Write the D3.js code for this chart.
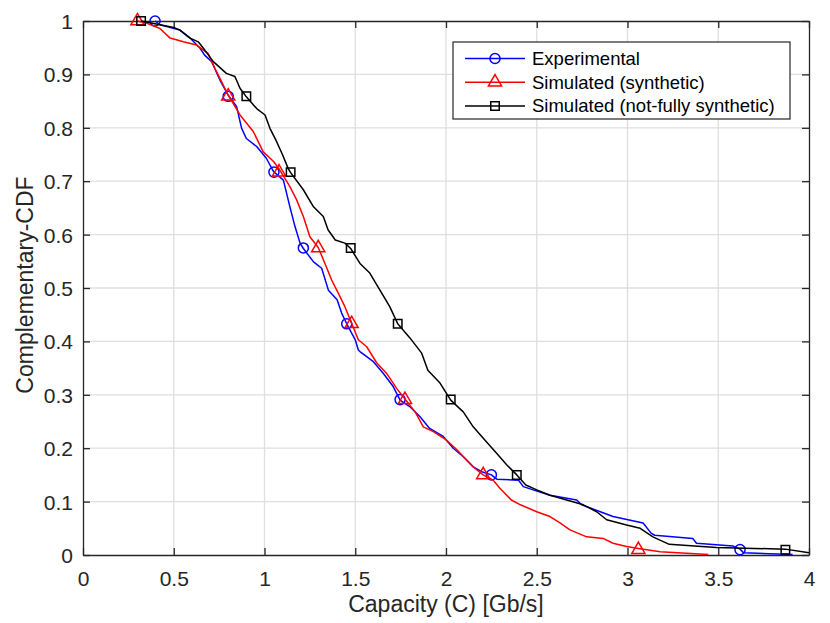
<!DOCTYPE html>
<html>
<head>
<meta charset="utf-8">
<script src="https://cdn.jsdelivr.net/npm/d3@7"></script>
<style>
  body { margin: 0; background: #fff; }
  text { font-family: "Liberation Sans", Arial, Helvetica, sans-serif; }
</style>
</head>
<body>
<script>
// CCDF curves: [capacity (Gb/s), complementary CDF]
var experimental = [
    [0.397, 1.0], [0.424, 0.993], [0.534, 0.983], [0.59, 0.968], [0.645, 0.949], [0.67, 0.936],
    [0.709, 0.924], [0.755, 0.889], [0.80, 0.861], [0.846, 0.84], [0.874, 0.799], [0.90, 0.78],
    [0.957, 0.765], [1.01, 0.743], [1.05, 0.718], [1.104, 0.702], [1.14, 0.652], [1.168, 0.615],
    [1.196, 0.584], [1.214, 0.574], [1.27, 0.549], [1.315, 0.537], [1.352, 0.496], [1.40, 0.478],
    [1.425, 0.453], [1.453, 0.433], [1.50, 0.403], [1.517, 0.384], [1.526, 0.381], [1.60, 0.362],
    [1.655, 0.34], [1.71, 0.315], [1.747, 0.29], [1.80, 0.278], [1.857, 0.259], [1.91, 0.237],
    [1.985, 0.222], [2.04, 0.20], [2.095, 0.184], [2.15, 0.165], [2.197, 0.156], [2.25, 0.15],
    [2.28, 0.142], [2.40, 0.14], [2.426, 0.128], [2.48, 0.122], [2.573, 0.112], [2.72, 0.103],
    [2.747, 0.094], [2.85, 0.081], [2.92, 0.072], [3.086, 0.06], [3.13, 0.041], [3.15, 0.037],
    [3.36, 0.031], [3.38, 0.022], [3.58, 0.017], [3.62, 0.011], [3.64, 0.004], [3.91, 0.001]
];
var synthetic = [
    [0.30, 1.0], [0.35, 0.996], [0.424, 0.986], [0.48, 0.968], [0.553, 0.961], [0.626, 0.955],
    [0.69, 0.939], [0.727, 0.911], [0.764, 0.886], [0.80, 0.861], [0.865, 0.824], [0.938, 0.793],
    [0.993, 0.755], [1.05, 0.737], [1.08, 0.723], [1.14, 0.69], [1.177, 0.665], [1.214, 0.634],
    [1.25, 0.596], [1.296, 0.576], [1.333, 0.546], [1.37, 0.515], [1.407, 0.49], [1.443, 0.465],
    [1.48, 0.434], [1.517, 0.403], [1.563, 0.39], [1.618, 0.36], [1.673, 0.34], [1.728, 0.312],
    [1.774, 0.292], [1.83, 0.268], [1.875, 0.24], [1.93, 0.231], [2.004, 0.215], [2.06, 0.197],
    [2.114, 0.178], [2.16, 0.162], [2.205, 0.15], [2.26, 0.14], [2.297, 0.125], [2.36, 0.103],
    [2.41, 0.094], [2.50, 0.081], [2.573, 0.072], [2.628, 0.06], [2.683, 0.047], [2.775, 0.034],
    [2.866, 0.031], [2.92, 0.022], [2.995, 0.016], [3.06, 0.012], [3.18, 0.006], [3.445, 0.001]
];
var notFully = [
    [0.32, 1.0], [0.50, 0.988], [0.534, 0.983], [0.59, 0.968], [0.635, 0.961], [0.67, 0.946],
    [0.718, 0.924], [0.79, 0.902], [0.837, 0.896], [0.865, 0.874], [0.90, 0.858], [0.957, 0.836],
    [1.003, 0.824], [1.03, 0.799], [1.067, 0.774], [1.10, 0.749], [1.13, 0.724], [1.144, 0.716],
    [1.214, 0.684], [1.27, 0.652], [1.324, 0.634], [1.35, 0.609], [1.39, 0.59], [1.443, 0.584],
    [1.475, 0.574], [1.526, 0.546], [1.58, 0.528], [1.636, 0.496], [1.69, 0.465], [1.734, 0.433],
    [1.80, 0.407], [1.866, 0.378], [1.90, 0.346], [1.967, 0.322], [2.026, 0.29], [2.095, 0.268],
    [2.15, 0.24], [2.215, 0.215], [2.28, 0.19], [2.334, 0.169], [2.39, 0.15], [2.44, 0.131],
    [2.50, 0.122], [2.573, 0.112], [2.665, 0.103], [2.757, 0.094], [2.83, 0.081], [2.885, 0.066],
    [2.995, 0.056], [3.07, 0.05], [3.14, 0.034], [3.23, 0.02], [3.49, 0.014], [3.87, 0.011],
    [4.0, 0.004]
];

// markers sit on every 15th sample, same CCDF levels for all three
var markerLevels = [1.0, 0.859, 0.717, 0.575, 0.433, 0.291, 0.15, 0.01];
var experimentalMarkX = [0.397, 0.80, 1.052, 1.214, 1.453, 1.747, 2.25, 3.62];
var syntheticMarkX = [0.30, 0.80, 1.08, 1.296, 1.48, 1.774, 2.205, 3.06];
var notFullyMarkX = [0.32, 0.90, 1.144, 1.475, 1.734, 2.026, 2.39, 3.87];

var seriesNames = ['Experimental', 'Simulated (synthetic)', 'Simulated (not-fully synthetic)'];
var xTicks = [0, 0.5, 1, 1.5, 2, 2.5, 3, 3.5, 4];
var yTicks = [0, 0.1, 0.2, 0.3, 0.4, 0.5, 0.6, 0.7, 0.8, 0.9, 1];

var margin = {top: 21, right: 21, bottom: 68, left: 83},
    width = 830 - margin.left - margin.right,
    height = 623 - margin.top - margin.bottom;

var axisColor = '#262626';
var gridColor = '#dfdfdf';

var series = [
    {name: seriesNames[0], data: experimental, markX: experimentalMarkX, color: '#0000ff', marker: 'circle'},
    {name: seriesNames[1], data: synthetic, markX: syntheticMarkX, color: '#ff0000', marker: 'triangle'},
    {name: seriesNames[2], data: notFully, markX: notFullyMarkX, color: '#000000', marker: 'square'}
];

var x = d3.scaleLinear().domain([0, 4]).range([0, width]);
var y = d3.scaleLinear().domain([0, 1]).range([height, 0]);

var svg = d3.select('body')
    .append('svg')
    .attr('width', 830)
    .attr('height', 623);

svg.append('rect')
    .attr('width', 830)
    .attr('height', 623)
    .attr('fill', '#fff');

var g = svg.append('g')
    .attr('transform', 'translate(' + margin.left + ',' + margin.top + ')');

// grid
g.append('g')
    .selectAll('line')
    .data(xTicks.slice(1, -1))
    .enter()
    .append('line')
    .attr('x1', function (d) { return x(d); })
    .attr('x2', function (d) { return x(d); })
    .attr('y1', 0)
    .attr('y2', height)
    .attr('stroke', gridColor)
    .attr('stroke-width', 1.3);

g.append('g')
    .selectAll('line')
    .data(yTicks.slice(1, -1))
    .enter()
    .append('line')
    .attr('y1', function (d) { return y(d); })
    .attr('y2', function (d) { return y(d); })
    .attr('x1', 0)
    .attr('x2', width)
    .attr('stroke', gridColor)
    .attr('stroke-width', 1.3);

// axes, ticks point inward like matlab
function styleAxis(sel) {
    sel.select('.domain').attr('stroke', axisColor).attr('stroke-width', 1.3);
    sel.selectAll('.tick line').attr('stroke', axisColor).attr('stroke-width', 1.3);
    sel.selectAll('.tick text')
        .attr('fill', axisColor)
        .style('font-size', '21px');
}

g.append('g')
    .attr('transform', 'translate(0,' + height + ')')
    .call(d3.axisBottom(x).tickValues(xTicks).tickFormat(d3.format('~g'))
        .tickSizeInner(-7).tickSizeOuter(0).tickPadding(16))
    .call(styleAxis);

g.append('g')
    .call(d3.axisLeft(y).tickValues(yTicks).tickFormat(d3.format('~g'))
        .tickSizeInner(-7).tickSizeOuter(0).tickPadding(10))
    .call(styleAxis)
    .selectAll('.tick text').attr('dy', '0.36em');

g.append('g')
    .call(d3.axisTop(x).tickValues(xTicks).tickFormat('')
        .tickSizeInner(-7).tickSizeOuter(0))
    .call(styleAxis);

g.append('g')
    .attr('transform', 'translate(' + width + ',0)')
    .call(d3.axisRight(y).tickValues(yTicks).tickFormat('')
        .tickSizeInner(-7).tickSizeOuter(0))
    .call(styleAxis);

// curves
var line = d3.line()
    .x(function (d) { return x(d[0]); })
    .y(function (d) { return y(d[1]); });

var symbolSize = {circle: 80, triangle: 75, square: 72};
var symbolType = {circle: d3.symbolCircle, triangle: d3.symbolTriangle, square: d3.symbolSquare};

function drawMarker(sel, s) {
    sel.attr('d', d3.symbol().type(symbolType[s.marker]).size(symbolSize[s.marker]))
        .attr('fill', 'none')
        .attr('stroke', s.color)
        .attr('stroke-width', 1.5);
}

series.forEach(function (s) {
    g.append('path')
        .datum(s.data)
        .attr('d', line)
        .attr('fill', 'none')
        .attr('stroke', s.color)
        .attr('stroke-width', 1.5)
        .attr('stroke-linejoin', 'round');

    g.append('g')
        .selectAll('path')
        .data(s.markX)
        .enter()
        .append('path')
        .attr('transform', function (d, i) {
            return 'translate(' + x(d) + ',' + y(markerLevels[i]) + ')';
        })
        .call(drawMarker, s);
});

// axis labels
svg.append('text')
    .attr('x', margin.left + width / 2)
    .attr('y', 612)
    .attr('text-anchor', 'middle')
    .attr('fill', axisColor)
    .style('font-size', '23px')
    .text('Capacity (C) [Gb/s]');

svg.append('text')
    .attr('transform', 'translate(33,' + (margin.top + height / 2 - 3) + ') rotate(-90)')
    .attr('text-anchor', 'middle')
    .attr('fill', axisColor)
    .style('font-size', '23px')
    .text('Complementary-CDF');

// legend
var legend = svg.append('g')
    .attr('transform', 'translate(453,42)');

legend.append('rect')
    .attr('width', 337)
    .attr('height', 77)
    .attr('fill', '#fff')
    .attr('stroke', axisColor)
    .attr('stroke-width', 1.2);

var rows = legend.selectAll('.row')
    .data(series)
    .enter()
    .append('g')
    .attr('class', 'row')
    .attr('transform', function (d, i) {
        return 'translate(0,' + (16.5 + i * 23.7) + ')';
    });

rows.append('line')
    .attr('x1', 12)
    .attr('x2', 72)
    .attr('stroke', function (d) { return d.color; })
    .attr('stroke-width', 1.5);

rows.append('path')
    .attr('transform', 'translate(42,0)')
    .each(function (d) { d3.select(this).call(drawMarker, d); });

rows.append('text')
    .attr('x', 79)
    .attr('dy', '0.35em')
    .attr('fill', '#000')
    .style('font-size', '18.5px')
    .text(function (d) { return d.name; });
</script>
</body>
</html>
